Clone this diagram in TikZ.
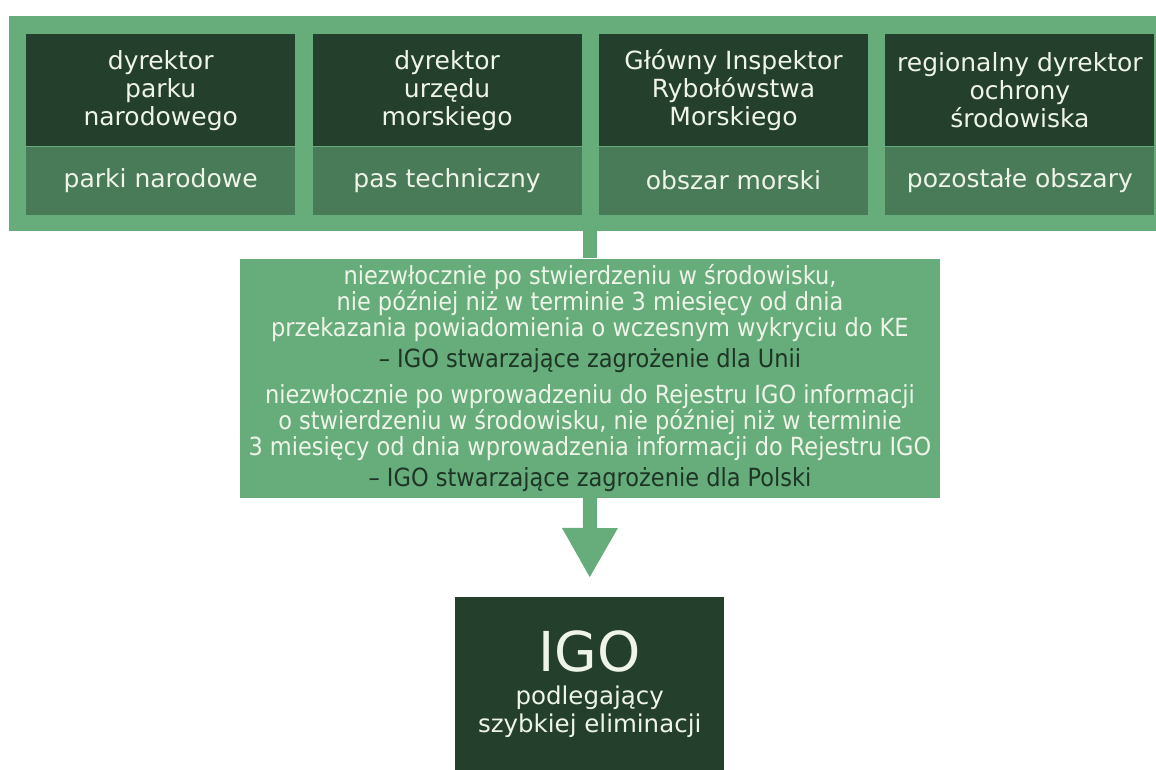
\documentclass[tikz,border=0pt]{standalone}
\usepackage{fontspec}
\setmainfont{DejaVu Sans}
\newfontfamily\condfont{DejaVu Sans Condensed}
\usetikzlibrary{positioning,arrows.meta}
\definecolor{bandgreen}{HTML}{66AD7B}
\definecolor{darkgreen}{HTML}{24402C}
\definecolor{midgreen}{HTML}{4A7B59}
\definecolor{paletext}{HTML}{EEF4E8}
\definecolor{darktext}{HTML}{1E3526}

\begin{document}
\begin{tikzpicture}
  [x=1pt, y=-1pt, node distance=0pt,
   every node/.style={inner sep=0pt, align=center, text=paletext},
   head/.style={fill=darkgreen, minimum width=269pt, minimum height=112pt,
                font=\fontsize{25}{28}\selectfont},
   area/.style={fill=midgreen, minimum width=269pt, minimum height=68pt,
                font=\fontsize{25}{28}\selectfont},
   stem/.style={draw=bandgreen, line width=14pt}]
  \useasboundingbox (0,0) rectangle (1156,770);

  % upper band with the four authorities
  \node (band) [fill=bandgreen, minimum width=1147pt, minimum height=215pt,
                anchor=north west] at (9,16) {};
  \node (dpn) [head, anchor=north west] at (26,34) {dyrektor\\parku\\narodowego};
  \node (dum) [head, right=17pt of dpn] {dyrektor\\urzędu\\morskiego};
  \node (gir) [head, right=17pt of dum] {Główny Inspektor\\Rybołówstwa\\Morskiego};
  \node (rdo) [head, right=17pt of gir] {regionalny dyrektor\\ochrony\\środowiska};
  \node (pn) [area, below=of dpn] {parki narodowe};
  \node (pt) [area, below=of dum] {pas techniczny};
  \node (om) [area, below=of gir] {obszar morski};
  \node (po) [area, below=of rdo] {pozostałe obszary};

  % deadlines
  \node (term) [fill=bandgreen, minimum width=700pt, minimum height=239pt,
                font=\condfont\fontsize{25}{22.5}\selectfont] at (590,378)
    {niezwłocznie po stwierdzeniu w środowisku,\\
     nie później niż w terminie 3 miesięcy od dnia\\
     przekazania powiadomienia o wczesnym wykryciu do KE\\[6pt]
     {\color{darktext}– IGO stwarzające zagrożenie dla Unii}\\[11pt]
     niezwłocznie po wprowadzeniu do Rejestru IGO informacji\\
     o stwierdzeniu w środowisku, nie później niż w terminie\\
     3 miesięcy od dnia wprowadzenia informacji do Rejestru IGO\\[6pt]
     {\color{darktext}– IGO stwarzające zagrożenie dla Polski}};

  % result
  \node (igo) [fill=darkgreen, minimum width=269pt, minimum height=173pt,
               anchor=north west, font=\fontsize{24.5}{28}\selectfont] at (455,597)
    {{\fontsize{55}{60}\selectfont IGO}\\[5pt] podlegający\\szybkiej eliminacji};

  \draw[stem] (band.south -| term.north) -- (term.north);
  \draw[stem, -{Triangle[width=52pt,length=50pt]}, shorten >=19pt]
    (term.south) -- (igo.north);
\end{tikzpicture}
\end{document}
